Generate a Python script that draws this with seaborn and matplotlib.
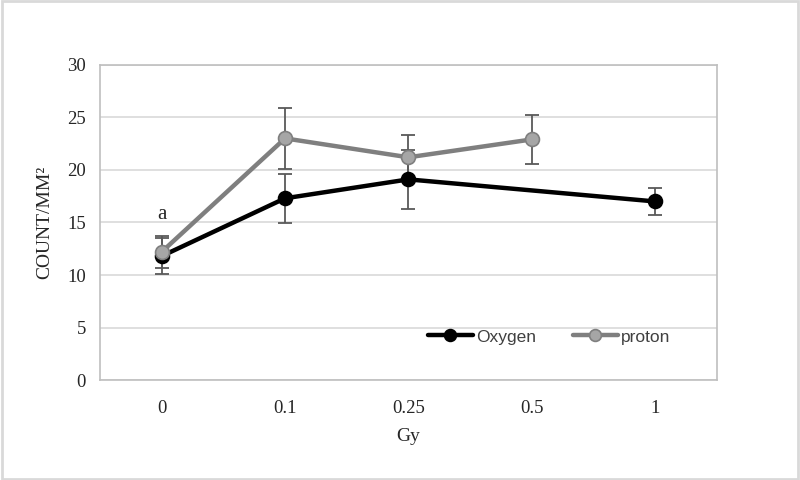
import numpy as np
import pandas as pd
import seaborn as sns
import matplotlib
matplotlib.use("Agg")
import matplotlib.pyplot as plt
from matplotlib.patches import Rectangle

categories = ["0", "0.1", "0.25", "0.5", "1"]
oxygen_mean = [11.8, 17.3, 19.1, np.nan, 17.0]
oxygen_err = [1.7, 2.35, 2.8, np.nan, 1.25]
proton_mean = [12.2, 23.0, 21.2, 22.9, np.nan]
proton_err = [1.5, 2.9, 2.1, 2.3, np.nan]
y_ticks = [0, 5, 10, 15, 20, 25, 30]

sns.set_theme(style="white")
serif = ["Liberation Serif", "DejaVu Serif"]
sans = ["Liberation Sans", "DejaVu Sans"]

rows = []
for name, means, errs in [("Oxygen", oxygen_mean, oxygen_err), ("proton", proton_mean, proton_err)]:
    for i, (c, m, e) in enumerate(zip(categories, means, errs)):
        if not np.isnan(m):
            rows.append({"series": name, "pos": i, "Gy": c, "value": m, "err": e})
df = pd.DataFrame(rows)

fig = plt.figure(figsize=(8, 4.8), dpi=100)
ax = fig.add_axes([0.125, 0.208, 0.771, 0.657])

styles = {
    "Oxygen": dict(color="black", mfc="black", mec="black"),
    "proton": dict(color="#7F7F7F", mfc="#A6A6A6", mec="#7F7F7F"),
}

# error bars
for name in ["Oxygen", "proton"]:
    sub = df[df.series == name]
    ax.errorbar(sub["pos"], sub["value"], yerr=sub["err"], fmt="none",
                ecolor="#595959", elinewidth=1.3, capsize=5, capthick=1.3, zorder=2)

for name in ["Oxygen", "proton"]:
    sub = df[df.series == name]
    st = styles[name]
    sns.lineplot(data=sub, x="pos", y="value", ax=ax, color=st["color"], linewidth=3.2,
                 marker="o", markersize=10, markerfacecolor=st["mfc"],
                 markeredgecolor=st["mec"], markeredgewidth=1.2, label=name,
                 errorbar=None, sort=False, zorder=3)

ax.set_xlim(-0.5, len(categories) - 0.5)
ax.set_ylim(0, 30)
ax.set_yticks(y_ticks)
ax.set_yticklabels([str(t) for t in y_ticks], fontsize=13.5, family=serif)
ax.set_xticks(range(len(categories)))
ax.set_xticklabels(categories, fontsize=13.5, family=serif)
ax.tick_params(axis="both", length=0, pad=10)
ax.tick_params(axis="x", pad=14)
ax.grid(axis="y", color="#D9D9D9", linewidth=1.2)
ax.set_axisbelow(True)
for sp in ax.spines.values():
    sp.set_color("#BFBFBF")
    sp.set_linewidth(1.2)

ax.set_xlabel("Gy", fontsize=14, family=serif, labelpad=8)
ax.set_ylabel("COUNT/MM²", fontsize=14, family=serif, labelpad=10)

ax.text(0, 15.8, "a", fontsize=15, family=serif, ha="center", va="center")

leg = ax.legend(loc="center", bbox_to_anchor=(0.728, 0.137), ncol=2, frameon=False,
                prop={"family": sans, "size": 12.5}, handlelength=2.6, columnspacing=2.1,
                handletextpad=0.2, markerscale=0.85)
for t in leg.get_texts():
    t.set_color("#404040")

fig.patches.append(Rectangle((0.002, 0.003), 0.996, 0.994, transform=fig.transFigure,
                             fill=False, edgecolor="#D9D9D9", linewidth=2))

fig.savefig("out.png", dpi=100)
